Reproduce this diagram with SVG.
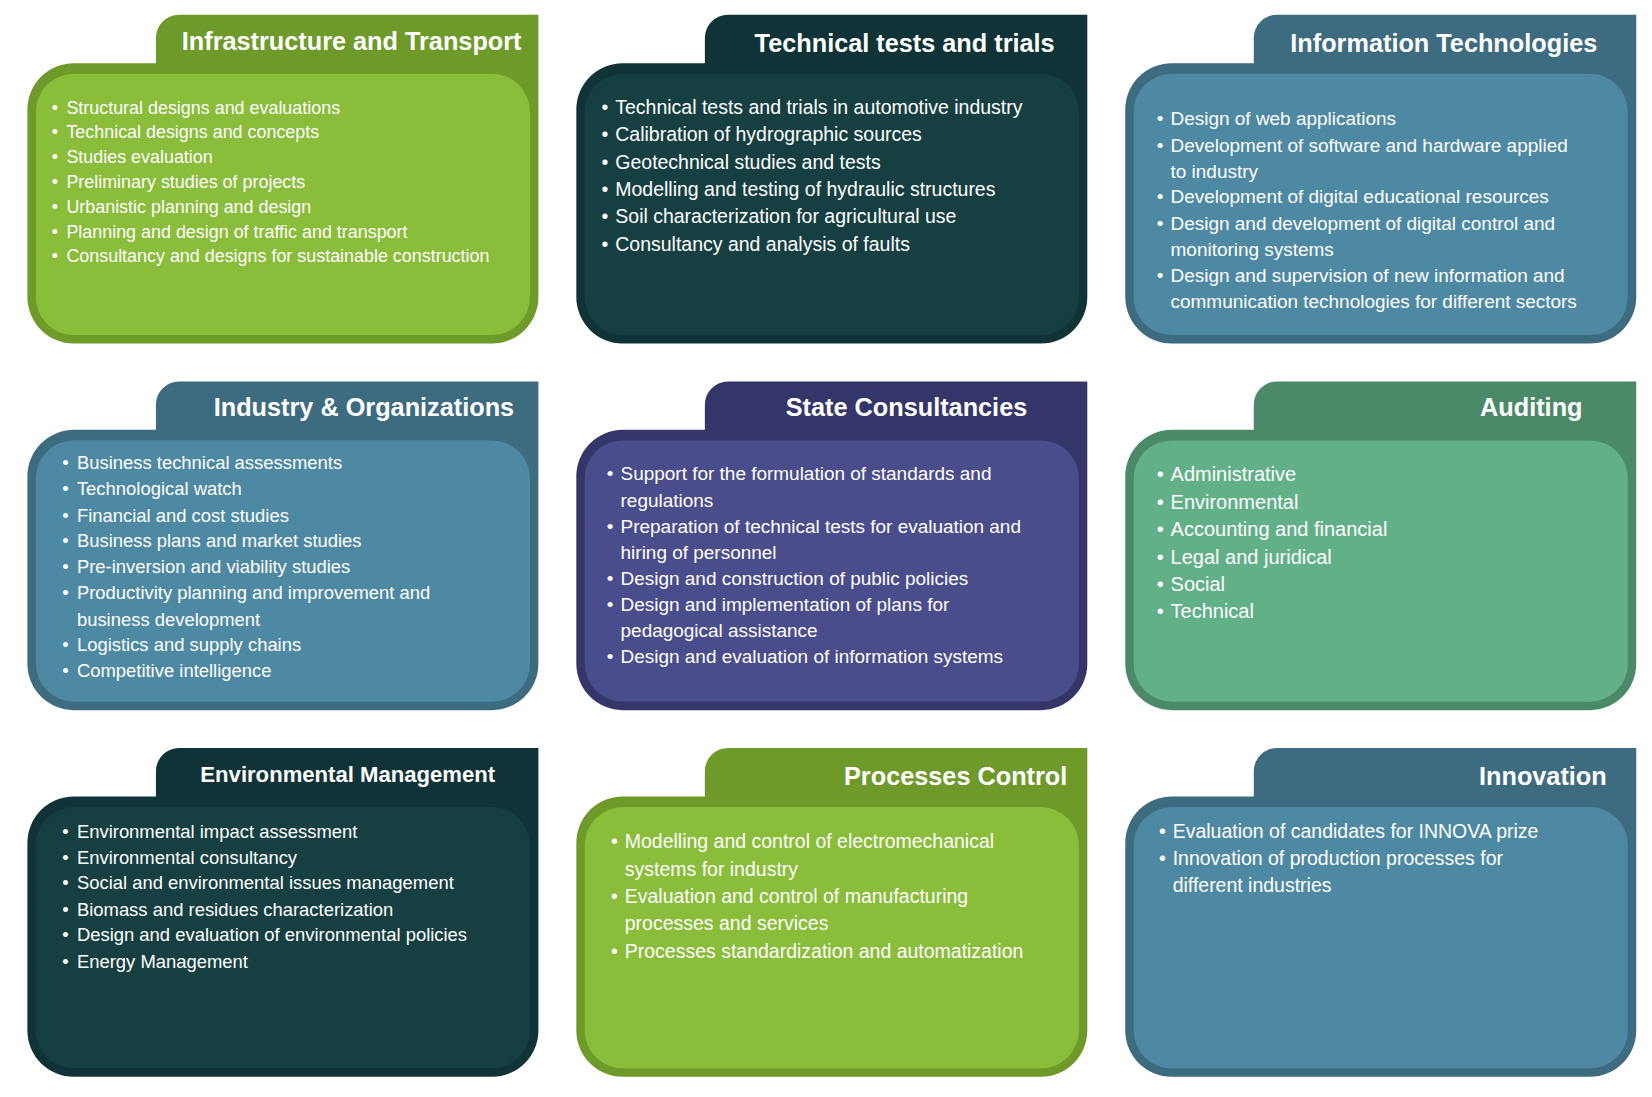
<svg xmlns="http://www.w3.org/2000/svg" width="1652" height="1097" viewBox="0 0 1652 1097">
<defs>
<path id="outline" d="M0,90 A44,44 0 0 1 44,46 L122,46 L122,22 A22,22 0 0 1 144,0 L485,0 L485,268 A44,44 0 0 1 441,312 L44,312 A44,44 0 0 1 0,268 Z"/>
</defs>
<style>
.t{font-family:"Liberation Sans",Arial,sans-serif;font-weight:bold;fill:#fff;font-size:24px;text-anchor:end}
.b{font-family:"Liberation Sans",Arial,sans-serif;fill:#fff}
.green .o{fill:#6e9a2a}.green .i{fill:#8abd3a}
.dark .o{fill:#0f3336}.dark .i{fill:#163f42}
.blue .o{fill:#3d6b80}.blue .i{fill:#4e89a4}
.purple .o{fill:#34366a}.purple .i{fill:#4a4d8c}
.mint .o{fill:#4b8a68}.mint .i{fill:#62b088}
</style>
<rect width="1652" height="1097" fill="#fff"/>
<g transform="scale(1.0536)">
<g id="infra" class="green" transform="translate(26,14)"><use href="#outline" class="o"/><rect class="i" x="8" y="56" width="469" height="248" rx="36"/></g>
<g id="tech" class="dark" transform="translate(547,14)"><use href="#outline" class="o"/><rect class="i" x="8" y="56" width="469" height="248" rx="36"/></g>
<g id="it" class="blue" transform="translate(1068,14)"><use href="#outline" class="o"/><rect class="i" x="8" y="56" width="469" height="248" rx="36"/></g>
<g id="industry" class="blue" transform="translate(26,362)"><use href="#outline" class="o"/><rect class="i" x="8" y="56" width="469" height="248" rx="36"/></g>
<g id="state" class="purple" transform="translate(547,362)"><use href="#outline" class="o"/><rect class="i" x="8" y="56" width="469" height="248" rx="36"/></g>
<g id="auditing" class="mint" transform="translate(1068,362)"><use href="#outline" class="o"/><rect class="i" x="8" y="56" width="469" height="248" rx="36"/></g>
<g id="env" class="dark" transform="translate(26,710)"><use href="#outline" class="o"/><rect class="i" x="8" y="56" width="469" height="248" rx="36"/></g>
<g id="proc" class="green" transform="translate(547,710)"><use href="#outline" class="o"/><rect class="i" x="8" y="56" width="469" height="248" rx="36"/></g>
<g id="innov" class="blue" transform="translate(1068,710)"><use href="#outline" class="o"/><rect class="i" x="8" y="56" width="469" height="248" rx="36"/></g>

<text class="t" x="495" y="47">Infrastructure and Transport</text>
<text class="t" x="1001" y="49">Technical tests and trials</text>
<text class="t" x="1516" y="49">Information Technologies</text>
<text class="t" x="488" y="395">Industry &amp; Organizations</text>
<text class="t" x="975" y="395">State Consultancies</text>
<text class="t" x="1502" y="395">Auditing</text>
<text class="t" x="470" y="742" style="font-size:21px">Environmental Management</text>
<text class="t" x="1013" y="745">Processes Control</text>
<text class="t" x="1525" y="745">Innovation</text>

<g class="b" font-size="17">
<text x="49" y="108">•</text><text x="63" y="108">Structural designs and evaluations</text>
<text x="49" y="131">•</text><text x="63" y="131">Technical designs and concepts</text>
<text x="49" y="155">•</text><text x="63" y="155">Studies evaluation</text>
<text x="49" y="178">•</text><text x="63" y="178">Preliminary studies of projects</text>
<text x="49" y="202">•</text><text x="63" y="202">Urbanistic planning and design</text>
<text x="49" y="226">•</text><text x="63" y="226">Planning and design of traffic and transport</text>
<text x="49" y="249">•</text><text x="63" y="249">Consultancy and designs for sustainable construction</text>
</g>
<g class="b" font-size="18.5">
<text x="571" y="108">•</text><text x="584" y="108">Technical tests and trials in automotive industry</text>
<text x="571" y="134">•</text><text x="584" y="134">Calibration of hydrographic sources</text>
<text x="571" y="160">•</text><text x="584" y="160">Geotechnical studies and tests</text>
<text x="571" y="186">•</text><text x="584" y="186">Modelling and testing of hydraulic structures</text>
<text x="571" y="212">•</text><text x="584" y="212">Soil characterization for agricultural use</text>
<text x="571" y="238">•</text><text x="584" y="238">Consultancy and analysis of faults</text>
</g>
<g class="b" font-size="18">
<text x="1098" y="119">•</text><text x="1111" y="119">Design of web applications</text>
<text x="1098" y="144">•</text><text x="1111" y="144">Development of software and hardware applied</text>
<text x="1111" y="169">to industry</text>
<text x="1098" y="193">•</text><text x="1111" y="193">Development of digital educational resources</text>
<text x="1098" y="218">•</text><text x="1111" y="218">Design and development of digital control and</text>
<text x="1111" y="243">monitoring systems</text>
<text x="1098" y="268">•</text><text x="1111" y="268">Design and supervision of new information and</text>
<text x="1111" y="292">communication technologies for different sectors</text>
</g>
<g class="b" font-size="17.5">
<text x="59" y="445">•</text><text x="73" y="445">Business technical assessments</text>
<text x="59" y="470">•</text><text x="73" y="470">Technological watch</text>
<text x="59" y="495">•</text><text x="73" y="495">Financial and cost studies</text>
<text x="59" y="519">•</text><text x="73" y="519">Business plans and market studies</text>
<text x="59" y="544">•</text><text x="73" y="544">Pre-inversion and viability studies</text>
<text x="59" y="569">•</text><text x="73" y="569">Productivity planning and improvement and</text>
<text x="73" y="594">business development</text>
<text x="59" y="618">•</text><text x="73" y="618">Logistics and supply chains</text>
<text x="59" y="643">•</text><text x="73" y="643">Competitive intelligence</text>
</g>
<g class="b" font-size="18">
<text x="576" y="456">•</text><text x="589" y="456">Support for the formulation of standards and</text>
<text x="589" y="481">regulations</text>
<text x="576" y="506">•</text><text x="589" y="506">Preparation of technical tests for evaluation and</text>
<text x="589" y="531">hiring of personnel</text>
<text x="576" y="555">•</text><text x="589" y="555">Design and construction of public policies</text>
<text x="576" y="580">•</text><text x="589" y="580">Design and implementation of plans for</text>
<text x="589" y="605">pedagogical assistance</text>
<text x="576" y="629">•</text><text x="589" y="629">Design and evaluation of information systems</text>
</g>
<g class="b" font-size="19">
<text x="1098" y="457">•</text><text x="1111" y="457">Administrative</text>
<text x="1098" y="483">•</text><text x="1111" y="483">Environmental</text>
<text x="1098" y="509">•</text><text x="1111" y="509">Accounting and financial</text>
<text x="1098" y="535">•</text><text x="1111" y="535">Legal and juridical</text>
<text x="1098" y="561">•</text><text x="1111" y="561">Social</text>
<text x="1098" y="587">•</text><text x="1111" y="587">Technical</text>
</g>
<g class="b" font-size="17.5">
<text x="59" y="795">•</text><text x="73" y="795">Environmental impact assessment</text>
<text x="59" y="820">•</text><text x="73" y="820">Environmental consultancy</text>
<text x="59" y="844">•</text><text x="73" y="844">Social  and environmental issues management</text>
<text x="59" y="869">•</text><text x="73" y="869">Biomass and residues characterization</text>
<text x="59" y="893">•</text><text x="73" y="893">Design and evaluation of environmental policies</text>
<text x="59" y="919">•</text><text x="73" y="919">Energy Management</text>
</g>
<g class="b" font-size="18.5">
<text x="580" y="805">•</text><text x="593" y="805">Modelling and control of electromechanical</text>
<text x="593" y="831">systems for industry</text>
<text x="580" y="857">•</text><text x="593" y="857">Evaluation and control of manufacturing</text>
<text x="593" y="883">processes and services</text>
<text x="580" y="909">•</text><text x="593" y="909">Processes standardization and automatization</text>
</g>
<g class="b" font-size="18.5">
<text x="1100" y="795">•</text><text x="1113" y="795">Evaluation of candidates for INNOVA prize</text>
<text x="1100" y="821">•</text><text x="1113" y="821">Innovation of production processes for</text>
<text x="1113" y="847">different industries</text>
</g>
</g>
</svg>
